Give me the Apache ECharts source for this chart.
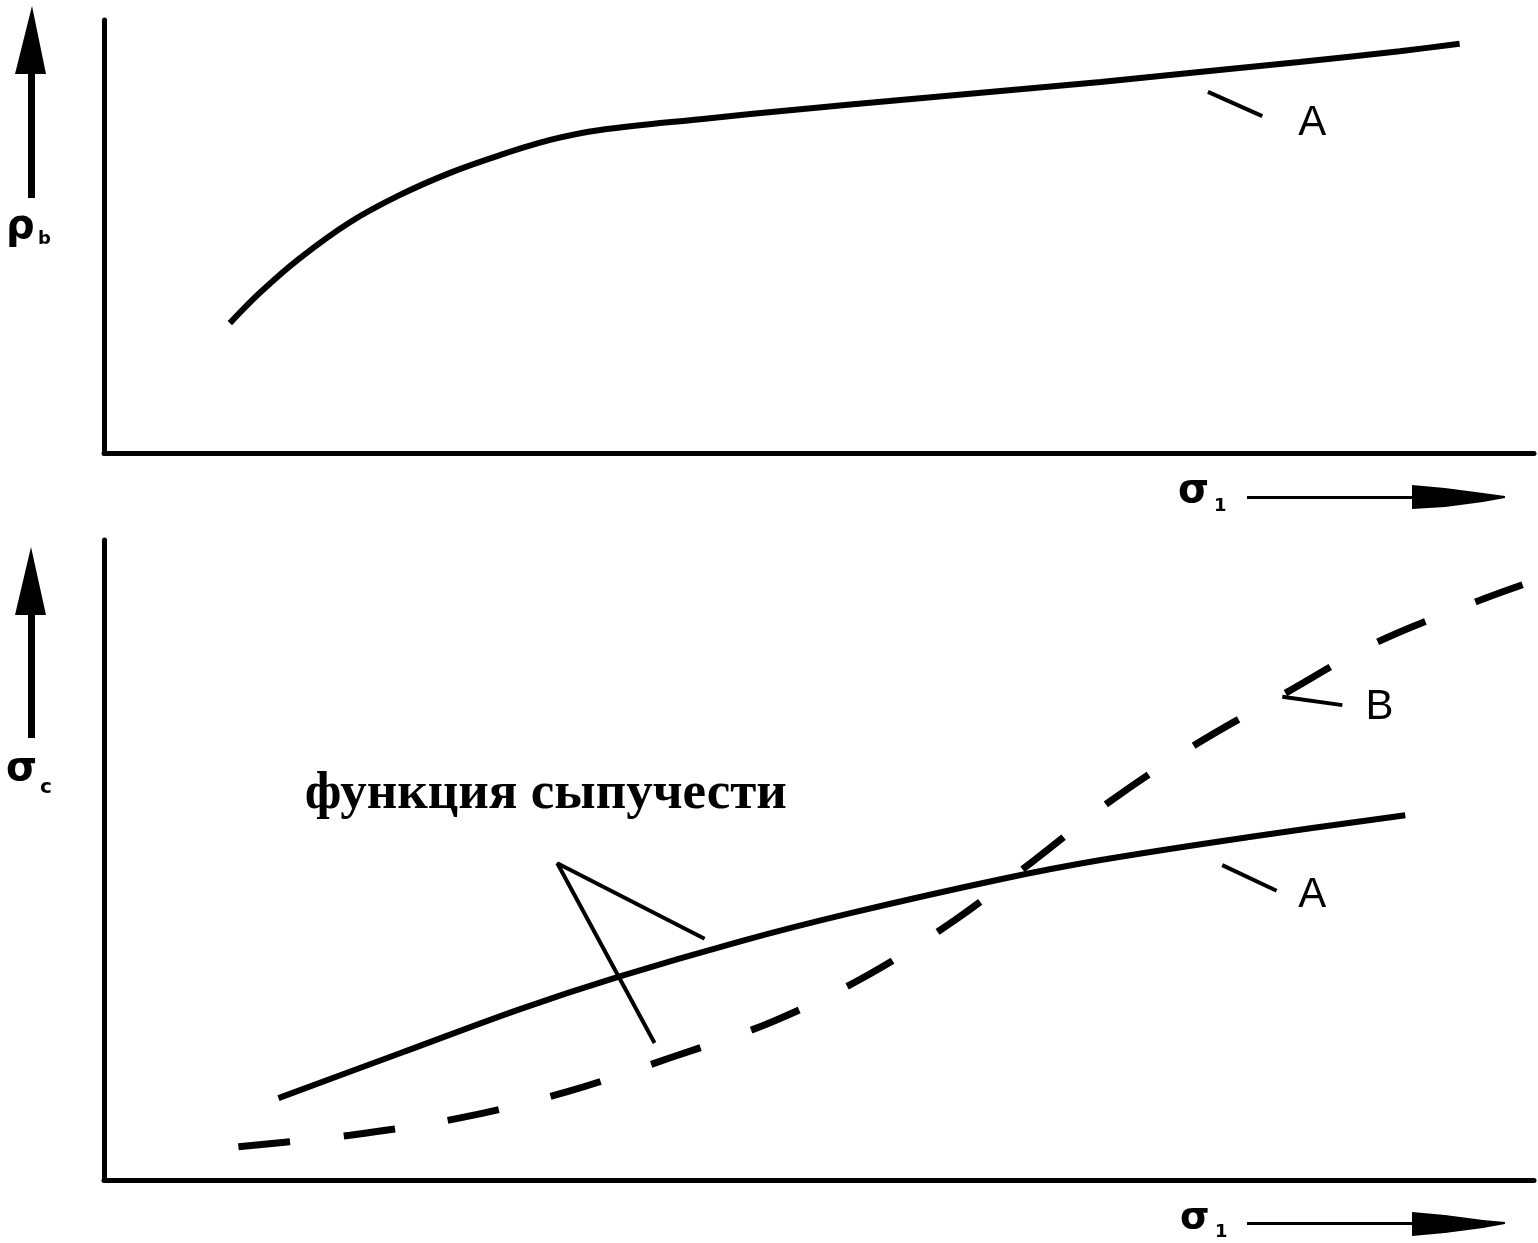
<!DOCTYPE html>
<html>
<head>
<meta charset="utf-8">
<script src="https://cdn.jsdelivr.net/npm/echarts@6/dist/echarts.min.js"></script>
<style>
  html, body { margin: 0; padding: 0; background: #fff; }
  #chart { width: 1538px; height: 1243px; }
</style>
</head>
<body>
<div id="chart"></div>
<script>
// top panel: bulk density rho_b vs sigma_1 (curve A)
const topA = [
  [8.8, 30.0], [10.9, 37.0], [13.7, 45.0], [17.2, 53.3], [20.7, 59.6],
  [24.2, 64.7], [27.7, 68.8], [31.2, 72.3], [34.7, 74.6], [41.7, 77.1],
  [48.7, 79.4], [55.7, 81.5], [62.7, 83.6], [69.7, 85.7], [76.6, 88.0],
  [83.6, 90.3], [90.6, 92.8], [94.8, 94.5]
]
// bottom panel: sigma_c vs sigma_1, flow function (A) and B
const bottomA = [
  [12.2, 12.8], [20.7, 19.8], [29.1, 26.7], [35.9, 31.7], [44.5, 37.3],
  [52.2, 41.7], [62.7, 47.0], [69.7, 50.0], [80.1, 53.6], [91.0, 57.0]
]
const bottomB = [
  [9.4, 5.2], [17.2, 7.0], [24.9, 9.7], [32.4, 13.8], [39.6, 19.1],
  [46.7, 24.7], [53.4, 32.0], [59.5, 40.6], [64.9, 49.7], [70.5, 59.4],
  [76.3, 68.0], [82.4, 75.8], [88.9, 83.9], [95.9, 90.3], [99.2, 93.0]
]
// annotation leaders and labels (data coords)
const topLeaderA = [[77.2, 83.4], [81.0, 77.8]]
const topLabelA = [84.5, 76.0]
const botLeaderA = [[78.2, 49.2], [82.0, 45.2]]
const botLabelA = [84.5, 44.5]
const leaderB = [[82.4, 75.5], [86.6, 74.2]]
const labelB = [89.2, 73.8]
const flowLeader = [[42.0, 37.7], [31.7, 49.5], [38.5, 21.4]]
const flowLabel = [30.9, 60.2]
const flowText = 'функция сыпучести'

const chart = echarts.init(document.getElementById('chart'))

function axis (gridIndex) {
  return {
    gridIndex: gridIndex,
    type: 'value',
    min: 0,
    max: 100,
    axisLine: { show: true, onZero: false, lineStyle: { color: '#000', width: 5 } },
    axisTick: { show: false },
    axisLabel: { show: false },
    splitLine: { show: false }
  }
}

function curve (data, idx, extra) {
  return Object.assign({
    type: 'line',
    xAxisIndex: idx,
    yAxisIndex: idx,
    data: data,
    symbol: 'none',
    smooth: 0.35,
    lineStyle: { color: '#000', width: 6 },
    silent: true
  }, extra || {})
}

function leader (data, idx) {
  return {
    type: 'line',
    xAxisIndex: idx,
    yAxisIndex: idx,
    data: data,
    symbol: 'none',
    lineStyle: { color: '#000', width: 4 },
    silent: true
  }
}

function label (pos, idx, text, font) {
  return {
    type: 'scatter',
    xAxisIndex: idx,
    yAxisIndex: idx,
    data: [pos],
    symbolSize: 0,
    silent: true,
    itemStyle: { opacity: 1, color: '#000' },
    label: {
      show: true,
      position: 'inside',
      formatter: text,
      color: '#000',
      opacity: 1,
      fontFamily: font.family,
      fontSize: font.size,
      fontWeight: font.weight
    }
  }
}

const sans = { family: 'Liberation Sans', size: 42, weight: 'normal' }

const option = {
  animation: false,
  backgroundColor: '#fff',
  grid: [
    { left: 104, top: 20, width: 1430, height: 433 },
    { left: 104, top: 540, width: 1430, height: 640 }
  ],
  xAxis: [axis(0), axis(1)],
  yAxis: [axis(0), axis(1)],
  series: [
    curve(topA, 0),
    curve(bottomA, 1),
    curve(bottomB, 1, { lineStyle: { color: '#000', width: 7, type: [52, 53.6] } }),
    leader(topLeaderA, 0),
    leader(botLeaderA, 1),
    leader(leaderB, 1),
    leader(flowLeader, 1),
    label(topLabelA, 0, 'A', sans),
    label(botLabelA, 1, 'A', sans),
    label(labelB, 1, 'B', sans),
    label(flowLabel, 1, flowText, { family: 'Liberation Serif', size: 53, weight: 'bold' })
  ],
  graphic: [
    // y arrows
    { type: 'rect', shape: { x: 28, y: 72, width: 7, height: 126 }, style: { fill: '#000' } },
    { type: 'polygon', shape: { points: [[32, 6], [46, 74], [15, 74]] }, style: { fill: '#000' } },
    { type: 'rect', shape: { x: 28, y: 613, width: 7, height: 125 }, style: { fill: '#000' } },
    { type: 'polygon', shape: { points: [[31, 547], [46, 615], [15, 615]] }, style: { fill: '#000' } },
    // x arrows
    { type: 'rect', shape: { x: 1247, y: 496, width: 170, height: 3 }, style: { fill: '#000' } },
    { type: 'polygon', shape: { points: [[1412, 485], [1445, 488], [1483, 493], [1505, 496], [1505, 498], [1483, 502], [1445, 507], [1412, 509]] }, style: { fill: '#000' } },
    { type: 'rect', shape: { x: 1247, y: 1222, width: 170, height: 3 }, style: { fill: '#000' } },
    { type: 'polygon', shape: { points: [[1412, 1212], [1445, 1215], [1483, 1220], [1505, 1222], [1505, 1224], [1483, 1228], [1445, 1233], [1412, 1236]] }, style: { fill: '#000' } },
    // axis symbols
    { type: 'text', left: 6, top: 208, style: { text: 'ρ', font: 'bold 40px "DejaVu Sans"', fill: '#000' } },
    { type: 'text', left: 38, top: 230, style: { text: 'b', font: 'bold 18px "DejaVu Sans"', fill: '#000' } },
    { type: 'text', left: 6, top: 750, style: { text: 'σ', font: 'bold 40px "DejaVu Sans"', fill: '#000' } },
    { type: 'text', left: 40, top: 778, style: { text: 'c', font: 'bold 20px "DejaVu Sans"', fill: '#000' } },
    { type: 'text', left: 1178, top: 472, style: { text: 'σ', font: 'bold 40px "DejaVu Sans"', fill: '#000' } },
    { type: 'text', left: 1214, top: 497, style: { text: '1', font: 'bold 18px "DejaVu Sans"', fill: '#000' } },
    { type: 'text', left: 1180, top: 1199, style: { text: 'σ', font: 'bold 38px "DejaVu Sans"', fill: '#000' } },
    { type: 'text', left: 1215, top: 1223, style: { text: '1', font: 'bold 18px "DejaVu Sans"', fill: '#000' } }
  ]
}

chart.setOption(option)
window.addEventListener('resize', () => { chart && chart.resize() })
</script>
</body>
</html>
